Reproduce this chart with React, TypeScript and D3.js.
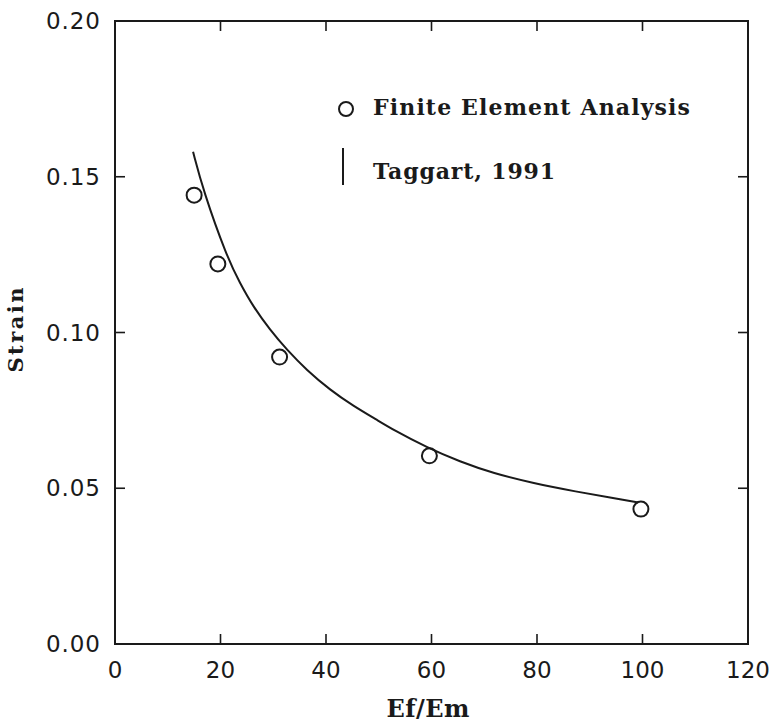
import React from "react";
import * as d3 from "d3";

// Finite element analysis points
const femX = [15, 19.5, 31.2, 59.6, 99.7];
const femY = [0.1441, 0.122, 0.0921, 0.0604, 0.0433];

// Taggart, 1991 curve
const curveX = [14.8, 16.7, 21.2, 23.7, 26.2, 29.4, 32.6, 36.3, 40.8, 45.2, 49.6, 52.8, 59.1, 65.4, 71.7, 79.3, 87.5, 94.5, 99.2];
const curveY = [0.158, 0.1457, 0.1243, 0.1158, 0.1083, 0.1008, 0.0944, 0.088, 0.0815, 0.0764, 0.072, 0.0687, 0.0631, 0.0585, 0.0548, 0.0516, 0.0489, 0.0468, 0.0454];

const xTicks = [0, 20, 40, 60, 80, 100, 120];
const yTicks = [0, 0.05, 0.1, 0.15, 0.2];

const xLabel = "Ef/Em";
const yLabel = "Strain";
const legendLabels = ["Finite Element Analysis", "Taggart, 1991"];

const W = 775;
const H = 725;
const L = 115, R = 748, T = 21, B = 644;

export default function App() {
  const x = d3.scaleLinear().domain([0, 120]).range([L, R]);
  const y = d3.scaleLinear().domain([0, 0.2]).range([B, T]);
  const line = d3
    .line<number>()
    .x((_, i) => x(curveX[i]))
    .y((_, i) => y(curveY[i]))
    .curve(d3.curveBasis);
  const ink = "#1a1a1a";
  const tickLen = 10;
  const serif = "'DejaVu Serif', serif";
  const sans = "'DejaVu Sans', sans-serif";
  return (
    <svg
      width={W}
      height={H}
      style={{ position: "absolute", left: 0, top: 0, background: "#fff" }}
    >
      <rect x={0} y={0} width={W} height={H} fill="#fff" />
      {/* frame */}
      <rect x={L} y={T} width={R - L} height={B - T} fill="none" stroke={ink} strokeWidth={2} />
      {/* ticks */}
      {xTicks.slice(1, -1).map((t) => (
        <g key={"xt" + t}>
          <line x1={x(t)} x2={x(t)} y1={B} y2={B - tickLen} stroke={ink} strokeWidth={1.6} />
          <line x1={x(t)} x2={x(t)} y1={T} y2={T + tickLen} stroke={ink} strokeWidth={1.6} />
        </g>
      ))}
      {yTicks.slice(1, -1).map((t) => (
        <g key={"yt" + t}>
          <line x1={L} x2={L + tickLen} y1={y(t)} y2={y(t)} stroke={ink} strokeWidth={1.6} />
          <line x1={R} x2={R - tickLen} y1={y(t)} y2={y(t)} stroke={ink} strokeWidth={1.6} />
        </g>
      ))}
      {/* tick labels */}
      {xTicks.map((t) => (
        <text
          key={"xl" + t}
          x={x(t)}
          y={B + 34}
          textAnchor="middle"
          fontFamily={sans}
          fontSize={23}
          fill={ink}
        >
          {String(t)}
        </text>
      ))}
      {yTicks.map((t) => (
        <text
          key={"yl" + t}
          x={L - 15}
          y={y(t) + 8}
          textAnchor="end"
          fontFamily={sans}
          fontSize={23}
          fill={ink}
          textLength={54}
          lengthAdjust="spacing"
        >
          {d3.format(".2f")(t)}
        </text>
      ))}
      {/* axis labels */}
      <text
        x={428}
        y={717}
        textAnchor="middle"
        fontFamily={serif}
        fontWeight="bold"
        fontSize={24}
        fill={ink}
        textLength={83}
        lengthAdjust="spacing"
      >
        {xLabel}
      </text>
      <text
        transform={`translate(23,330) rotate(-90)`}
        textAnchor="middle"
        fontFamily={serif}
        fontWeight="bold"
        fontSize={21}
        fill={ink}
        textLength={85}
        lengthAdjust="spacing"
      >
        {yLabel}
      </text>
      {/* curve */}
      <path d={line(curveX) || ""} fill="none" stroke={ink} strokeWidth={2} />
      {/* points */}
      {femX.map((v, i) => (
        <circle key={"p" + i} cx={x(v)} cy={y(femY[i])} r={7.5} fill="none" stroke={ink} strokeWidth={2} />
      ))}
      {/* legend */}
      <circle cx={346} cy={109} r={7} fill="none" stroke={ink} strokeWidth={2} />
      <text
        x={373}
        y={115}
        fontFamily={serif}
        fontWeight="bold"
        fontSize={22}
        fill={ink}
        textLength={317}
        lengthAdjust="spacing"
      >
        {legendLabels[0]}
      </text>
      <line x1={343} x2={343} y1={148} y2={185} stroke={ink} strokeWidth={2} />
      <text
        x={373}
        y={179}
        fontFamily={serif}
        fontWeight="bold"
        fontSize={22}
        fill={ink}
        textLength={182}
        lengthAdjust="spacing"
      >
        {legendLabels[1]}
      </text>
    </svg>
  );
}
